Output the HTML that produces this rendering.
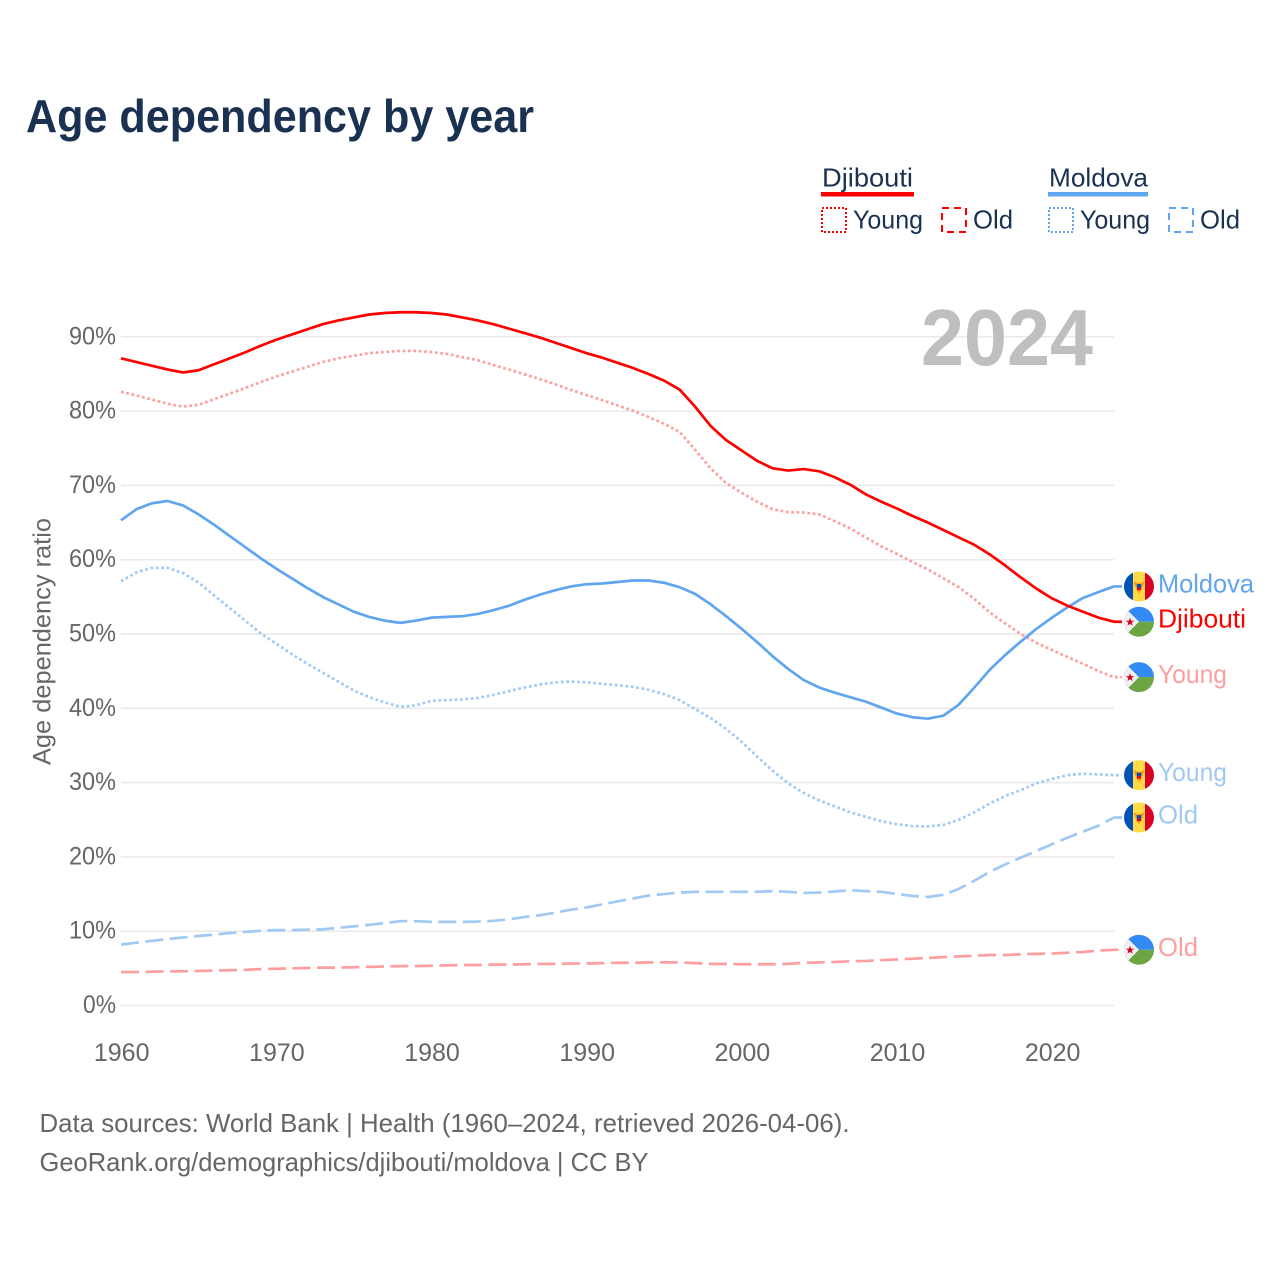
<!DOCTYPE html>
<html lang="en">
<head>
<meta charset="utf-8">
<title>Age dependency by year</title>
<style>
html,body{margin:0;padding:0;background:#fff;width:1280px;height:1280px;overflow:hidden}
svg{display:block;font-family:"Liberation Sans",sans-serif}
</style>
</head>
<body>
<svg id="chart" width="1280" height="1280" viewBox="0 0 1280 1280" xmlns="http://www.w3.org/2000/svg">
  <defs>
    <clipPath id="flag-clip"><circle cx="15" cy="15" r="15"/></clipPath>
    <symbol id="flag-md" viewBox="0 0 30 30">
      <g clip-path="url(#flag-clip)">
        <rect x="0" y="0" width="9" height="30" fill="#0052b4"/>
        <rect x="9" y="0" width="12" height="30" fill="#ffda44"/>
        <rect x="21" y="0" width="9" height="30" fill="#d80027"/>
        <polygon points="9.5,10 15,12 20.5,10 18.5,16 11.5,16" fill="#ff9811"/>
        <rect x="12.8" y="12.5" width="4.4" height="3.5" fill="#0052b4"/>
        <rect x="12.8" y="16" width="4.4" height="2.5" fill="#d80027"/>
        <polygon points="12.5,18.5 17.5,18.5 15,22" fill="#ff9811"/>
      </g>
    </symbol>
    <symbol id="flag-dj" viewBox="0 0 30 30">
      <g clip-path="url(#flag-clip)">
        <rect x="0" y="0" width="30" height="15" fill="#338af3"/>
        <rect x="0" y="15" width="30" height="15" fill="#6da544"/>
        <polygon points="0,0 4.4,4.4 15,15 4.4,25.6 0,30" fill="#f0f0f0"/>
        <polygon points="6,11 7.1,14 10.2,14 7.7,15.9 8.6,19 6,17.1 3.4,19 4.3,15.9 1.8,14 4.9,14" fill="#d80027"/>
      </g>
    </symbol>
  </defs>

  <text x="26" y="132" font-size="46" font-weight="700" fill="#1a3152" textLength="508" lengthAdjust="spacingAndGlyphs">Age dependency by year</text>

  <g>
    <g>
      <text x="822" y="186.5" font-size="26" fill="#1a3152" textLength="91" lengthAdjust="spacingAndGlyphs">Djibouti</text>
      <rect x="821" y="192" width="93" height="4.5" fill="#ff0000"/>
      <rect x="822" y="208" width="24" height="24" fill="none" stroke="#ff0000" stroke-width="2" stroke-dasharray="2 2"/>
      <text x="853" y="228.5" font-size="26" fill="#1a3152" textLength="70" lengthAdjust="spacingAndGlyphs">Young</text>
      <rect x="942" y="208" width="24" height="24" fill="none" stroke="#ff0000" stroke-width="2" stroke-dasharray="7 5"/>
      <text x="973" y="228.5" font-size="26" fill="#1a3152" textLength="40" lengthAdjust="spacingAndGlyphs">Old</text>
    </g>
    <g>
      <text x="1049" y="186.5" font-size="26" fill="#1a3152" textLength="99" lengthAdjust="spacingAndGlyphs">Moldova</text>
      <rect x="1048" y="192" width="100" height="4.5" fill="#60a5ef"/>
      <rect x="1049" y="208" width="24" height="24" fill="none" stroke="#60a5ef" stroke-width="2" stroke-dasharray="2 2"/>
      <text x="1080" y="228.5" font-size="26" fill="#1a3152" textLength="70" lengthAdjust="spacingAndGlyphs">Young</text>
      <rect x="1169" y="208" width="24" height="24" fill="none" stroke="#60a5ef" stroke-width="2" stroke-dasharray="7 5"/>
      <text x="1200" y="228.5" font-size="26" fill="#1a3152" textLength="40" lengthAdjust="spacingAndGlyphs">Old</text>
    </g>
  </g>

  <g id="grid"></g>
  <text x="921" y="365" font-size="80" font-weight="700" fill="#bfbfbf" textLength="172" lengthAdjust="spacingAndGlyphs">2024</text>
  <g id="y-ticks"></g>
  <g id="x-ticks"></g>
  <text x="0" y="0" transform="translate(50.5,641.5) rotate(-90)" text-anchor="middle" font-size="25" fill="#666666" textLength="247" lengthAdjust="spacingAndGlyphs">Age dependency ratio</text>
  <g id="series"></g>
  <g id="end-labels"></g>

  <text x="39.5" y="1132" font-size="26" fill="#666666" textLength="810" lengthAdjust="spacingAndGlyphs">Data sources: World Bank | Health (1960–2024, retrieved 2026-04-06).</text>
  <text x="39.5" y="1171" font-size="26" fill="#666666" textLength="609" lengthAdjust="spacingAndGlyphs">GeoRank.org/demographics/djibouti/moldova | CC BY</text>
</svg>
<script>
var startYear = 1960;
var xTickYears = [1960, 1970, 1980, 1990, 2000, 2010, 2020];
var yTickValues = [0, 10, 20, 30, 40, 50, 60, 70, 80, 90];
var yTickLabels = ['0%', '10%', '20%', '30%', '40%', '50%', '60%', '70%', '80%', '90%'];

var djiboutiTotal = [
  87.1, 86.6, 86.1, 85.6, 85.2, 85.5, 86.3, 87.1, 87.9, 88.8,
  89.6, 90.3, 91.0, 91.7, 92.2, 92.6, 93.0, 93.2, 93.3, 93.3,
  93.2, 93.0, 92.6, 92.2, 91.7, 91.1, 90.5, 89.9, 89.2, 88.5,
  87.8, 87.2, 86.5, 85.8, 85.0, 84.1, 82.9, 80.6, 78.0, 76.1,
  74.7, 73.3, 72.3, 72.0, 72.2, 71.9, 71.1, 70.1, 68.8, 67.8,
  66.9, 65.9, 65.0, 64.0, 63.0, 62.0, 60.7, 59.2, 57.6, 56.1,
  54.8, 53.8, 53.0, 52.2, 51.65
];
var djiboutiYoung = [
  82.6, 82.1, 81.55, 81.0, 80.6, 80.85, 81.6, 82.35, 83.1, 83.9,
  84.65, 85.3, 85.95, 86.6, 87.1, 87.45, 87.8, 87.95, 88.1, 88.1,
  87.95, 87.7, 87.25, 86.85, 86.2, 85.6, 84.95, 84.3, 83.6, 82.85,
  82.15, 81.5, 80.75, 80.05, 79.2, 78.3, 77.2, 74.8, 72.3, 70.3,
  69.0, 67.8, 66.8, 66.4, 66.35, 66.1, 65.2, 64.2, 63.0, 61.8,
  60.8, 59.7, 58.7, 57.5, 56.3, 54.7, 52.9, 51.4, 50.0, 48.8,
  47.85, 46.9, 46.0, 45.0, 44.2
];
var djiboutiOld = [
  4.5, 4.5, 4.55, 4.6, 4.6, 4.65, 4.7, 4.75, 4.8, 4.9,
  4.95, 5.0, 5.05, 5.1, 5.1, 5.15, 5.2, 5.25, 5.3, 5.3,
  5.35, 5.4, 5.45, 5.45, 5.5, 5.5, 5.55, 5.6, 5.6, 5.65,
  5.65, 5.7, 5.75, 5.75, 5.8, 5.8, 5.8, 5.7, 5.6, 5.6,
  5.55, 5.55, 5.55, 5.6, 5.75, 5.8, 5.85, 5.95, 6.0, 6.1,
  6.2, 6.3, 6.4, 6.5, 6.6, 6.7, 6.8, 6.8, 6.9, 6.95,
  7.0, 7.1, 7.2, 7.4, 7.5
];
var moldovaTotal = [
  65.3, 66.8, 67.6, 67.9, 67.3, 66.1, 64.7, 63.2, 61.7, 60.2,
  58.8, 57.5, 56.2, 55.0, 54.0, 53.0, 52.3, 51.8, 51.5, 51.8,
  52.2, 52.3, 52.4, 52.7, 53.2, 53.8, 54.6, 55.3, 55.9, 56.4,
  56.7, 56.8, 57.0, 57.2, 57.2, 56.9, 56.3, 55.4, 54.0, 52.4,
  50.7, 48.9, 47.0, 45.3, 43.8, 42.8, 42.1, 41.5, 40.9, 40.1,
  39.3, 38.8, 38.6, 39.0, 40.5, 42.8, 45.2, 47.2, 49.0, 50.7,
  52.2, 53.6, 54.85, 55.65, 56.4
];
var moldovaYoung = [
  57.1, 58.3, 58.9, 58.9, 58.2, 56.9, 55.2, 53.5, 51.8, 50.1,
  48.7, 47.3, 46.0, 44.8, 43.6, 42.4, 41.5, 40.8, 40.2, 40.4,
  41.0, 41.1, 41.2, 41.4, 41.8, 42.3, 42.8, 43.2, 43.5, 43.6,
  43.5, 43.3, 43.1, 42.9, 42.5, 41.9, 41.1, 39.9, 38.7, 37.2,
  35.5, 33.5, 31.6, 29.9, 28.6, 27.6, 26.8, 26.0, 25.4, 24.8,
  24.4, 24.15, 24.1, 24.3, 25.0, 26.0, 27.2, 28.2, 29.0, 29.9,
  30.5, 31.0, 31.2, 31.1, 31.0
];
var moldovaOld = [
  8.2, 8.45, 8.7, 8.95, 9.15, 9.35, 9.55, 9.75, 9.9, 10.05,
  10.15, 10.15, 10.2, 10.25, 10.45, 10.65, 10.85, 11.1, 11.35, 11.35,
  11.25, 11.25, 11.25, 11.3, 11.4, 11.6, 11.9, 12.15, 12.5, 12.9,
  13.2, 13.6, 14.0, 14.4, 14.8, 15.0, 15.2, 15.3, 15.3, 15.3,
  15.3, 15.3, 15.4, 15.3, 15.15, 15.2, 15.35, 15.5, 15.4, 15.3,
  15.0, 14.75, 14.6, 14.9, 15.7, 16.8, 18.0, 19.0, 19.9, 20.8,
  21.7, 22.6, 23.4, 24.2, 25.3
];

var NS = 'http://www.w3.org/2000/svg';
function xScale(year) { return 121 + (year - 1960) * 15.516; }
function yScale(value) { return 1005.5 - value * 7.43; }
function make(tag, attrs, text) {
  var el = document.createElementNS(NS, tag);
  for (var k in attrs) el.setAttribute(k, attrs[k]);
  if (text !== undefined) el.textContent = text;
  return el;
}

var gridG = document.getElementById('grid');
var yG = document.getElementById('y-ticks');
yTickValues.forEach(function (v, i) {
  var line = make('line', { x1: 121, x2: 1114, y1: yScale(v), y2: yScale(v), stroke: '#e9e9e9', 'stroke-width': 1.5 });
  
  
  gridG.appendChild(line);
  var label = make('text', {
    x: 116, y: yScale(v) + 7.5, 'text-anchor': 'end', 'font-size': 25, fill: '#666666',
    textLength: v === 0 ? 33 : 47, lengthAdjust: 'spacingAndGlyphs'
  }, yTickLabels[i]);
  
  
  yG.appendChild(label);
});

var xG = document.getElementById('x-ticks');
xTickYears.forEach(function (yr) {
  var label = make('text', { x: xScale(yr) + 0.7, y: 1061, 'text-anchor': 'middle', 'font-size': 25, fill: '#666666' }, String(yr));
  
  
  xG.appendChild(label);
});

var seriesList = [
  { id: 'djibouti-old', values: djiboutiOld, color: '#ff9e9e', dash: '18 6.5', flag: 'flag-dj', label: 'Old', labelW: 40 },
  { id: 'moldova-old', values: moldovaOld, color: '#a0c9f4', dash: '18 6.5', flag: 'flag-md', label: 'Old', labelW: 40 },
  { id: 'moldova-young', values: moldovaYoung, color: '#a0c9f4', dash: '2.7 2.7', flag: 'flag-md', label: 'Young', labelW: 69 },
  { id: 'djibouti-young', values: djiboutiYoung, color: '#ff9e9e', dash: '2.7 2.7', flag: 'flag-dj', label: 'Young', labelW: 69 },
  { id: 'moldova-total', values: moldovaTotal, color: '#60a5ef', dash: '', flag: 'flag-md', label: 'Moldova', labelW: 96 },
  { id: 'djibouti-total', values: djiboutiTotal, color: '#ff0000', dash: '', flag: 'flag-dj', label: 'Djibouti', labelW: 88 }
];

var seriesG = document.getElementById('series');
var labelsG = document.getElementById('end-labels');
seriesList.forEach(function (s) {
  var pts = s.values.map(function (v, i) {
    return xScale(startYear + i).toFixed(2) + ',' + yScale(v).toFixed(2);
  });
  var endY = yScale(s.values[s.values.length - 1]);
  var endX = xScale(startYear + s.values.length - 1);
  var line = make('polyline', {
    points: pts.join(' ') + ' ' + (endX + 8) + ',' + endY.toFixed(2),
    fill: 'none', stroke: s.color, 'stroke-width': 2.7, 'stroke-linejoin': 'round'
  });
  if (s.dash) line.setAttribute('stroke-dasharray', s.dash);
  
  
  seriesG.appendChild(line);

  var flag = make('use', { href: '#' + s.flag, x: 1124, y: endY - 15, width: 30, height: 30 });
  
  
  labelsG.appendChild(flag);

  var label = make('text', {
    x: 1158, y: endY + 6, 'font-size': 26, fill: s.color,
    textLength: s.labelW, lengthAdjust: 'spacingAndGlyphs'
  }, s.label);
  
  
  labelsG.appendChild(label);
});
</script>
</body>
</html>
